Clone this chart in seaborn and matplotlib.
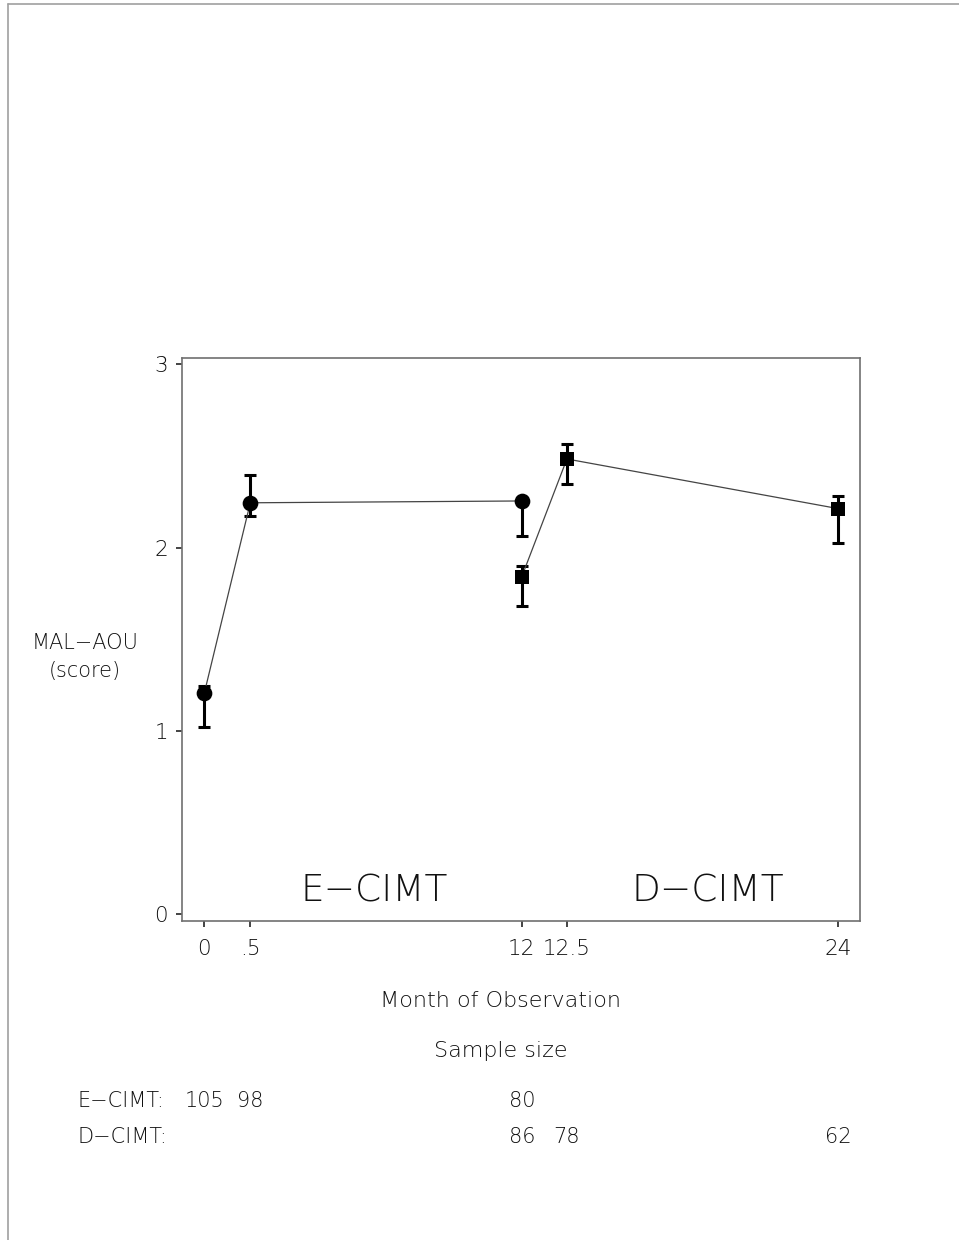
import matplotlib
matplotlib.use("Agg")
import matplotlib.pyplot as plt
import matplotlib.transforms as mtransforms
from matplotlib.lines import Line2D
import pandas as pd
import seaborn as sns

# months and where each one sits on the (broken) x axis
months = [0, 0.5, 12, 12.5, 24]
month_labels = ["0", ".5", "12", "12.5", "24"]
month_pos = [0, 1.0, 6.9, 7.88, 13.78]

# E-CIMT group
e_month = [0, 0.5, 12]
e_mean = [1.206, 2.245, 2.255]
e_low = [1.020, 2.175, 2.064]
e_high = [1.245, 2.395, 2.265]
e_n = [105, 98, 80]

# D-CIMT group
d_month = [12, 12.5, 24]
d_mean = [1.842, 2.484, 2.213]
d_low = [1.684, 2.346, 2.026]
d_high = [1.902, 2.564, 2.282]
d_n = [86, 78, 62]

MINUS = "\u2212"
pos_of = dict(zip(months, month_pos))

rows = []
for grp, ms, mean, lo, hi in [("E", e_month, e_mean, e_low, e_high),
                              ("D", d_month, d_mean, d_low, d_high)]:
    for m, v, l, h in zip(ms, mean, lo, hi):
        rows.append({"group": grp, "pos": pos_of[m], "mean": v, "low": l, "high": h})
df = pd.DataFrame(rows)

sns.set_style("white")
plt.rcParams["font.family"] = ["DejaVu Sans"]
plt.rcParams["font.weight"] = "light"
txt_color = "#111111"

fig = plt.figure(figsize=(9.59, 12.4), dpi=100)
ax = fig.add_axes([0.1895, 0.2575, 0.7073, 0.4535])

# error bars first so markers sit on top
for _, r in df.iterrows():
    ax.errorbar(r["pos"], r["mean"],
                yerr=[[r["mean"] - r["low"]], [r["high"] - r["mean"]]],
                fmt="none", ecolor="black", elinewidth=2.2, capsize=4.3,
                capthick=2.2, zorder=2)

# one lineplot per group so each keeps its own marker size
for grp, mk, msize in [("E", "o", 11.3), ("D", "s", 9.6)]:
    sns.lineplot(data=df[df["group"] == grp], x="pos", y="mean",
                 color="#444444", marker=mk, markersize=msize,
                 markerfacecolor="black", markeredgewidth=0,
                 sort=True, estimator=None, legend=False, ax=ax,
                 linewidth=0.9, zorder=3)

ax.set_xlim(-0.49, 14.25)
ax.set_ylim(-0.035, 3.033)
ax.set_xticks(month_pos)
ax.set_xticklabels(month_labels)
ax.set_yticks([0, 1, 2, 3])
ax.set_xlabel("")
ax.set_ylabel("")

for sp in ax.spines.values():
    sp.set_color("#707070")
    sp.set_linewidth(1.2)
ax.tick_params(axis="x", direction="out", length=4.5, width=1.1, pad=8.5,
               labelsize=15.5, colors=txt_color, bottom=True)
ax.tick_params(axis="y", direction="out", length=4.5, width=1.1, pad=5.5,
               labelsize=15.5, colors=txt_color, left=True)

ax.text(0.2835, 0.053, "E" + MINUS + "CIMT", transform=ax.transAxes,
        ha="center", va="center", fontsize=27, color=txt_color)
ax.text(0.776, 0.053, "D" + MINUS + "CIMT", transform=ax.transAxes,
        ha="center", va="center", fontsize=27, color=txt_color)

fig.text(85 / 959, 1 - 657 / 1240, "MAL" + MINUS + "AOU\n(score)", ha="center",
         va="center", fontsize=15, linespacing=1.55, color=txt_color)
fig.text(501 / 959, 1 - 1001 / 1240, "Month of Observation", ha="center",
         va="center", fontsize=16, color=txt_color)
fig.text(501 / 959, 1 - 1051 / 1240, "Sample size", ha="center",
         va="center", fontsize=16, color=txt_color)

# sample sizes under the matching months
tr = mtransforms.blended_transform_factory(ax.transData, fig.transFigure)
for name, ms, ns, ypx in [("E" + MINUS + "CIMT:", e_month, e_n, 1101),
                          ("D" + MINUS + "CIMT:", d_month, d_n, 1137)]:
    fig.text(78 / 959, 1 - ypx / 1240, name, ha="left", va="center",
             fontsize=15, color=txt_color)
    for m, n in zip(ms, ns):
        ax.text(pos_of[m], 1 - ypx / 1240, str(n), transform=tr, ha="center",
                va="center", fontsize=15, color=txt_color, clip_on=False)

# thin page frame along the top and left edges
fig.add_artist(Line2D([8 / 959, 1], [1 - 4 / 1240, 1 - 4 / 1240],
                      transform=fig.transFigure, color="#a0a0a0", linewidth=1.2))
fig.add_artist(Line2D([8 / 959, 8 / 959], [0, 1 - 4 / 1240],
                      transform=fig.transFigure, color="#a0a0a0", linewidth=1.2))

fig.savefig("out.png", dpi=100)
